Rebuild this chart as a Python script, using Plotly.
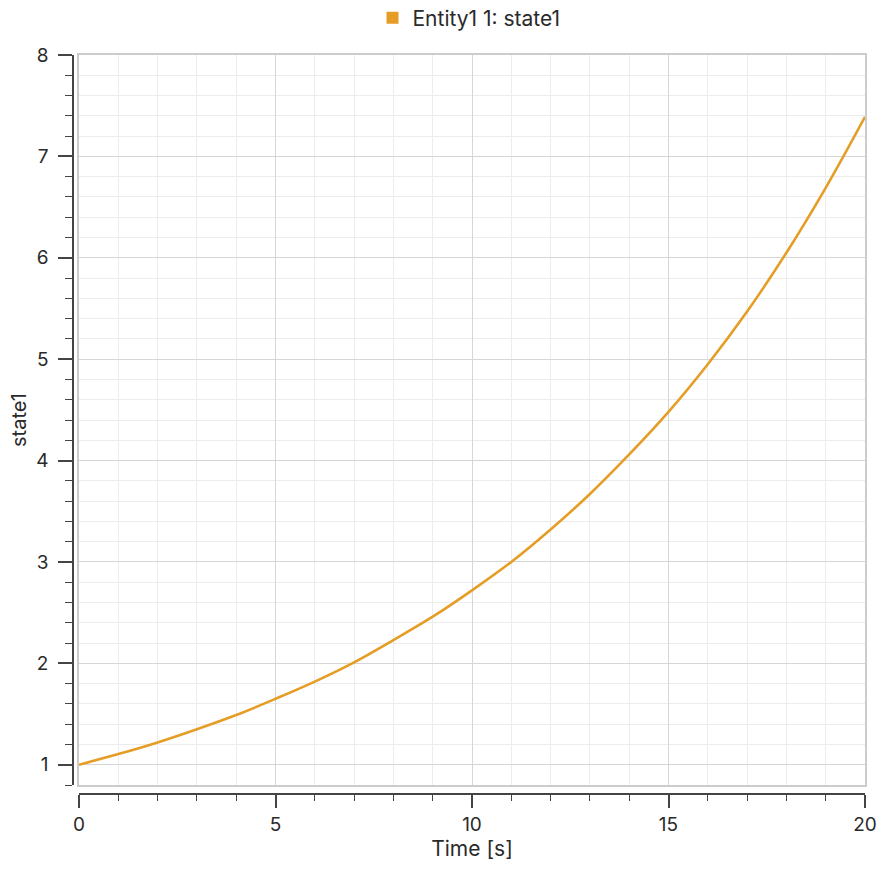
import plotly.graph_objects as go

# Values (time in s, state1)
time_s = [0, 1, 2, 3, 4, 5, 6, 7, 8, 9, 10, 11, 12, 13, 14, 15, 16, 17, 18, 19, 20]
state1 = [1.00, 1.105, 1.22, 1.35, 1.49, 1.65, 1.82, 2.01, 2.23, 2.46, 2.72,
          3.00, 3.32, 3.67, 4.06, 4.48, 4.95, 5.47, 6.05, 6.69, 7.39]
series_name = "Entity1 1: state1"
x_title = "Time [s]"
y_title = "state1"
x_range = [0, 20]
y_range = [0.8, 8]

LINE_COLOR = "#E59D26"
FONT = "Inter, Roboto, Liberation Sans, sans-serif"
TEXT = "#2a2a2a"

W, H = 880, 869
ml, mr, mt, mb = 73, 15, 55, 75
plot_w = W - ml - mr
plot_h = H - mt - mb
xdom0 = 6 / plot_w
ydom0 = 9 / plot_h

fig = go.Figure()
fig.add_trace(go.Scatter(x=time_s, y=state1, mode="lines", line=dict(color=LINE_COLOR, width=2.6, shape="spline"),
                         showlegend=False, hoverinfo="x+y"))
fig.add_trace(go.Scatter(x=[None], y=[None], mode="markers", name=series_name,
                         marker=dict(symbol="square", size=12, color=LINE_COLOR)))
# invisible trace for the offset axes
fig.add_trace(go.Scatter(x=[x_range[0]], y=[y_range[0]], xaxis="x2", yaxis="y2", mode="markers",
                         marker=dict(opacity=0), showlegend=False, hoverinfo="skip"))

fig.update_layout(
    width=W, height=H,
    margin=dict(l=ml, r=mr, t=mt, b=mb, autoexpand=False),
    paper_bgcolor="white", plot_bgcolor="white",
    font=dict(family=FONT, color=TEXT, size=16),
    showlegend=True,
    legend=dict(orientation="h", x=0.5, xanchor="center", y=1 + 37 / plot_h, yanchor="middle",
                bgcolor="rgba(0,0,0,0)", font=dict(size=21, color=TEXT), itemwidth=30),
    xaxis=dict(domain=[xdom0, 1], range=x_range, dtick=5, showticklabels=False, ticks="", automargin=False,
               showgrid=True, gridcolor="#d6d6d6", gridwidth=1, zeroline=False,
               showline=True, mirror=True, linecolor="#cccccc", linewidth=1.5,
               minor=dict(dtick=1, showgrid=True, gridcolor="#ececec", gridwidth=1)),
    yaxis=dict(domain=[ydom0, 1], range=y_range, dtick=1, tick0=0, showticklabels=False, ticks="", automargin=False,
               showgrid=True, gridcolor="#d6d6d6", gridwidth=1, zeroline=False,
               showline=True, mirror=True, linecolor="#cccccc", linewidth=1.5,
               minor=dict(dtick=0.2, showgrid=True, gridcolor="#ececec", gridwidth=1)),
    xaxis2=dict(domain=[xdom0, 1], range=x_range, overlaying="x", anchor="free", position=0, automargin=False,
                dtick=5, ticks="outside", ticklen=13, tickwidth=1.5, tickcolor="#444444",
                showline=True, linecolor="#444444", linewidth=1.5, showgrid=False, zeroline=False,
                tickfont=dict(size=19, color=TEXT), ticklabeloverflow="allow",
                title=dict(text=x_title, font=dict(size=21, color=TEXT), standoff=4),
                minor=dict(dtick=1, ticks="outside", ticklen=6, tickwidth=1.2, tickcolor="#444444", showgrid=False)),
    yaxis2=dict(domain=[ydom0, 1], range=y_range, overlaying="y", anchor="free", position=0, automargin=False,
                dtick=1, tick0=0, ticks="outside", ticklen=14, tickwidth=1.5, tickcolor="#444444",
                showline=True, linecolor="#444444", linewidth=1.5, showgrid=False, zeroline=False,
                tickfont=dict(size=19, color=TEXT), ticklabelstandoff=6, ticklabeloverflow="allow",
                title=dict(text=y_title, font=dict(size=20, color=TEXT), standoff=3),
                minor=dict(dtick=0.2, ticks="outside", ticklen=7, tickwidth=1.2, tickcolor="#444444", showgrid=False)),
)

fig.write_html("out.html", config={"displayModeBar": False},
               post_script="document.body.style.margin='0px';document.body.style.overflow='hidden';")
